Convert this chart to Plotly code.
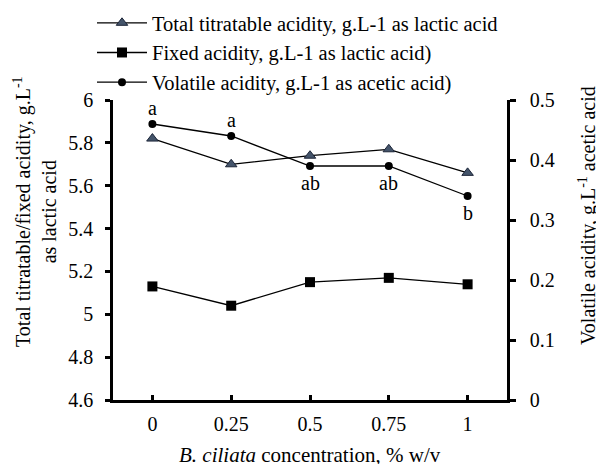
import plotly.graph_objects as go

# ---- data ----
conc = ["0", "0.25", "0.5", "0.75", "1"]
total_acidity = [5.82, 5.70, 5.74, 5.77, 5.66]
fixed_acidity = [5.13, 5.04, 5.15, 5.17, 5.14]
volatile_acidity = [0.46, 0.44, 0.39, 0.39, 0.34]
volatile_letters = ["a", "a", "ab", "ab", "b"]
letter_side = ["above", "above", "below", "below", "below"]

series_names = [
    "Total titratable acidity, g.L-1 as lactic acid",
    "Fixed acidity, g.L-1 as lactic acid)",
    "Volatile acidity, g.L-1 as acetic acid)",
]

FONT = "Liberation Serif"
xi = list(range(len(conc)))
x_bounds = [i + 0.5 for i in range(-1, len(conc))]

fig = go.Figure()
fig.add_trace(go.Scatter(
    x=xi, y=total_acidity, name=series_names[0], mode="lines+markers",
    line=dict(color="black", width=1.3),
    marker=dict(symbol="triangle-up", size=10, color="#44546A",
                line=dict(color="#1c2538", width=1)),
))
fig.add_trace(go.Scatter(
    x=xi, y=fixed_acidity, name=series_names[1], mode="lines+markers",
    line=dict(color="black", width=1.3),
    marker=dict(symbol="square", size=10, color="black"),
))
fig.add_trace(go.Scatter(
    x=xi, y=volatile_acidity, name=series_names[2], mode="lines+markers",
    yaxis="y2",
    line=dict(color="black", width=1.3),
    marker=dict(symbol="circle", size=8, color="black"),
))

# significance letters
for i, (v, t, s) in enumerate(zip(volatile_acidity, volatile_letters, letter_side)):
    fig.add_annotation(x=xi[i], y=v, xref="x", yref="y2", text=t, showarrow=False,
                       yshift=16 if s == "above" else -17, yanchor="middle",
                       font=dict(family=FONT, size=20, color="black"))

# axis titles (annotations for exact placement)
L, R, T, B = 113, 507, 100, 400
W, H = R - L, B - T
def px(xp):
    return (xp - L) / W
def py(yp):
    return (B - yp) / H

fig.add_annotation(x=px(35), y=py(212), xref="paper", yref="paper", showarrow=False,
                   text="Total titratable/fixed acidity, g.L<sup>-1</sup><br>as lactic acid",
                   textangle=-90, xanchor="center", yanchor="middle",
                   font=dict(family=FONT, size=20, color="black"))
fig.add_annotation(x=px(587), y=py(216), xref="paper", yref="paper", showarrow=False,
                   text="Volatile acidity, g.L<sup>-1</sup> acetic acid",
                   textangle=-90, xanchor="center", yanchor="middle",
                   font=dict(family=FONT, size=20, color="black"))
fig.add_annotation(x=px(310), y=py(455), xref="paper", yref="paper", showarrow=False,
                   text="<i>B. ciliata</i> concentration, % w/v",
                   xanchor="center", yanchor="middle",
                   font=dict(family=FONT, size=21, color="black"))

TK = dict(tickcolor="black", tickwidth=2.5, showgrid=False, zeroline=False,
          tickfont=dict(family=FONT, size=20, color="black"))

fig.update_layout(
    width=596, height=464,
    margin=dict(l=L, r=596 - R, t=T, b=464 - B, autoexpand=False),
    paper_bgcolor="white", plot_bgcolor="white",
    font=dict(family=FONT, size=20, color="black"),
    showlegend=True,
    legend=dict(x=px(92), y=py(3), xanchor="left", yanchor="top",
                bgcolor="rgba(0,0,0,0)",
                font=dict(family=FONT, size=20.5, color="black"),
                itemwidth=50, tracegroupgap=0),
    # main x axis: labels + small inside ticks at categories
    xaxis=dict(
        range=[-0.5, 4.5], tickmode="array", tickvals=xi, ticktext=conc,
        ticks="inside", ticklen=5, showline=True, linewidth=2.5, linecolor="black",
        ticklabelstandoff=4, **TK,
    ),
    # boundary ticks (outside)
    xaxis2=dict(
        range=[-0.5, 4.5], overlaying="x", side="bottom", anchor="y",
        tickmode="array", tickvals=x_bounds, ticks="outside", ticklen=6,
        showticklabels=False, showline=False, **TK,
    ),
    yaxis=dict(
        range=[4.6, 6.0], tickmode="linear", tick0=4.6, dtick=0.2,
        ticks="outside", ticklen=5, showline=True, linewidth=2.5, linecolor="black",
        ticklabelstandoff=8, **TK,
    ),
    # left minor ticks (inside)
    yaxis3=dict(
        range=[4.6, 6.0], overlaying="y", side="left", anchor="x",
        tickmode="linear", tick0=4.6, dtick=0.04, ticks="inside", ticklen=4,
        showticklabels=False, showline=False, **TK,
    ),
    yaxis2=dict(
        range=[0, 0.5], overlaying="y", side="right", anchor="x",
        tickmode="linear", tick0=0, dtick=0.1,
        ticks="outside", ticklen=6, showline=True, linewidth=2.5, linecolor="black",
        ticklabelstandoff=10, **TK,
    ),
    # right minor ticks (inside)
    yaxis4=dict(
        range=[0, 0.5], overlaying="y", side="right", anchor="x",
        tickmode="linear", tick0=0, dtick=0.02, ticks="inside", ticklen=5,
        showticklabels=False, showline=False, **TK,
    ),
)

fig.write_html("out.html")
